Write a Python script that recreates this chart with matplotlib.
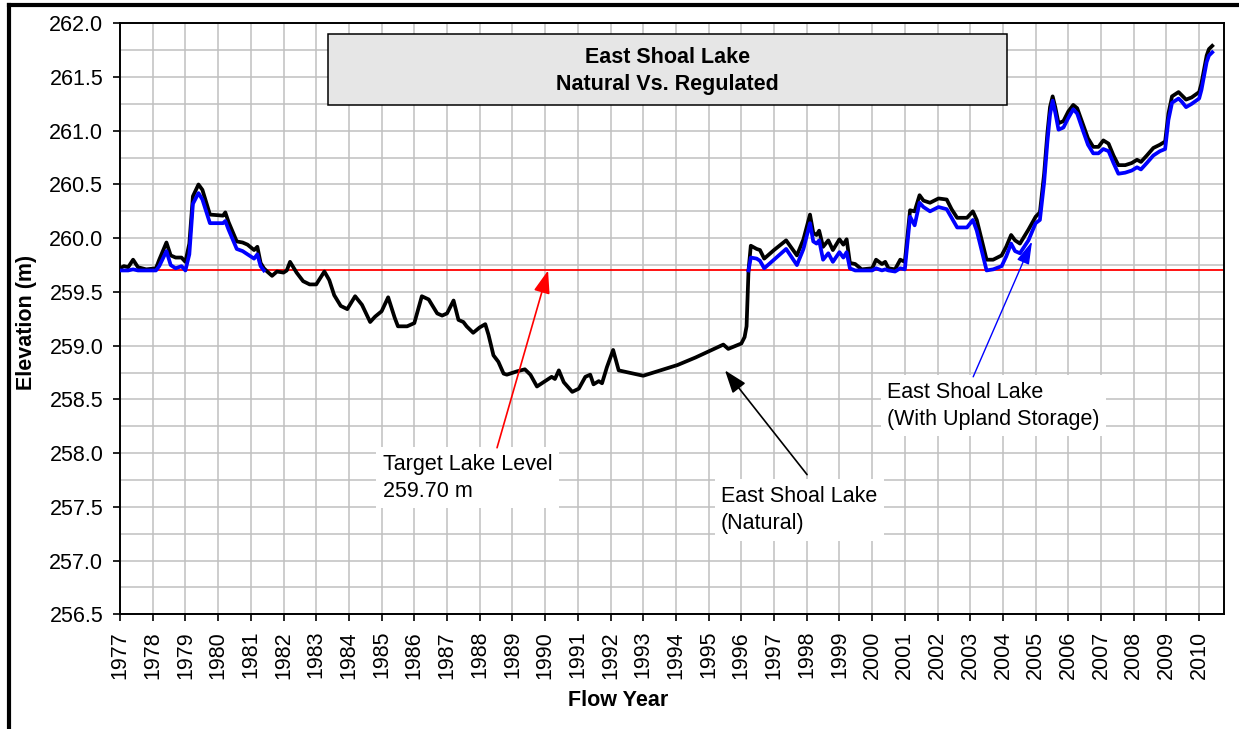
import numpy as np
import matplotlib
matplotlib.use("Agg")
import matplotlib.pyplot as plt
from matplotlib.lines import Line2D
from matplotlib.patches import Rectangle

plt.rcParams['font.family'] = ['Liberation Sans', 'DejaVu Sans']

# ---------------- data ----------------
years = [1977.00, 1977.12, 1977.25, 1977.40, 1977.55, 1977.80, 1978.10, 1978.20, 1978.42, 1978.55,
         1978.70, 1978.88, 1979.00, 1979.12, 1979.23, 1979.40, 1979.52, 1979.75, 1980.15, 1980.22,
         1980.32, 1980.57, 1980.75, 1980.90, 1981.10, 1981.20, 1981.30, 1981.40,
         1981.50, 1981.65, 1981.80, 1982.00, 1982.10, 1982.20, 1982.40, 1982.60, 1982.80, 1983.00,
         1983.25, 1983.40, 1983.55, 1983.75, 1983.95, 1984.19, 1984.40, 1984.65, 1984.80, 1985.00,
         1985.20, 1985.40, 1985.50, 1985.78, 1986.00, 1986.23, 1986.44, 1986.70, 1986.85, 1987.00,
         1987.20, 1987.35, 1987.50, 1987.60, 1987.80, 1988.00, 1988.17, 1988.27, 1988.42, 1988.57,
         1988.73, 1988.83, 1989.13, 1989.38, 1989.55, 1989.75, 1989.95, 1990.20, 1990.30, 1990.42,
         1990.57, 1990.83, 1991.03, 1991.23, 1991.38, 1991.48, 1991.64, 1991.74, 1991.89, 1992.08,
         1992.25, 1993.00, 1994.05, 1994.60, 1995.45, 1995.60, 1996.00, 1996.10, 1996.16,
         1996.22, 1996.29, 1996.47, 1996.57, 1996.70, 1997.00, 1997.37, 1997.70, 1997.90, 1998.10,
         1998.20, 1998.30, 1998.38, 1998.50, 1998.66, 1998.80, 1999.00, 1999.12, 1999.22, 1999.32,
         1999.48, 1999.68, 2000.00, 2000.12, 2000.30, 2000.40, 2000.50, 2000.70, 2000.86, 2001.00,
         2001.16, 2001.30, 2001.45, 2001.57, 2001.77, 2002.03, 2002.28, 2002.43, 2002.60, 2002.90,
         2003.08, 2003.20, 2003.50, 2003.70, 2003.96, 2004.10, 2004.25, 2004.37, 2004.52, 2004.78,
         2005.00, 2005.13, 2005.26, 2005.36, 2005.44, 2005.52, 2005.60, 2005.70, 2005.85, 2006.00,
         2006.15, 2006.27, 2006.46, 2006.60, 2006.76, 2006.92, 2007.07, 2007.23, 2007.38, 2007.53,
         2007.74, 2007.94, 2008.10, 2008.22, 2008.40, 2008.60, 2008.80, 2008.96, 2009.06, 2009.17,
         2009.37, 2009.47, 2009.60, 2009.77, 2010.00, 2010.07, 2010.23, 2010.30, 2010.40]

natural = [259.72, 259.74, 259.73, 259.80, 259.73, 259.71, 259.72, 259.80, 259.96, 259.84,
           259.82, 259.82, 259.78, 259.95, 260.39, 260.50, 260.45, 260.22, 260.21, 260.24,
           260.15, 259.97, 259.96, 259.94, 259.89, 259.92, 259.77, 259.72,
           259.69, 259.65, 259.69, 259.68, 259.70, 259.78, 259.68, 259.60, 259.57, 259.57,
           259.69, 259.61, 259.47, 259.37, 259.34, 259.46, 259.38, 259.22, 259.27, 259.32,
           259.45, 259.26, 259.18, 259.18, 259.21, 259.46, 259.43, 259.30, 259.28, 259.30,
           259.42, 259.24, 259.22, 259.18, 259.12, 259.17, 259.20, 259.10, 258.91, 258.85,
           258.74, 258.73, 258.76, 258.78, 258.73, 258.62, 258.66, 258.71, 258.69, 258.77,
           258.66, 258.57, 258.60, 258.71, 258.73, 258.64, 258.67, 258.65, 258.80, 258.96,
           258.77, 258.72, 258.82, 258.89, 259.01, 258.97, 259.02, 259.08, 259.18,
           259.70, 259.93, 259.90, 259.89, 259.81, 259.89, 259.98, 259.84, 259.99, 260.22,
           260.05, 260.03, 260.07, 259.92, 259.98, 259.89, 259.99, 259.94, 259.99, 259.77,
           259.76, 259.71, 259.72, 259.80, 259.76, 259.78, 259.72, 259.71, 259.80, 259.78,
           260.26, 260.25, 260.40, 260.35, 260.33, 260.37, 260.36, 260.27, 260.19, 260.19,
           260.25, 260.17, 259.80, 259.80, 259.84, 259.92, 260.03, 259.98, 259.95, 260.08,
           260.20, 260.24, 260.60, 260.98, 261.22, 261.32, 261.22, 261.07, 261.09, 261.18,
           261.24, 261.21, 261.05, 260.93, 260.85, 260.85, 260.91, 260.88, 260.77, 260.68,
           260.68, 260.70, 260.73, 260.71, 260.77, 260.84, 260.87, 260.90, 261.16, 261.32,
           261.36, 261.33, 261.29, 261.31, 261.36, 261.44, 261.70, 261.76, 261.79]

upland = [259.70, 259.70, 259.70, 259.71, 259.70, 259.70, 259.70, 259.74, 259.88, 259.75,
          259.72, 259.74, 259.70, 259.85, 260.32, 260.42, 260.36, 260.14, 260.14, 260.16,
          260.08, 259.90, 259.88, 259.85, 259.81, 259.85, 259.74, 259.70,
          None, None, None, None, None, None, None, None, None, None,
          None, None, None, None, None, None, None, None, None, None,
          None, None, None, None, None, None, None, None, None, None,
          None, None, None, None, None, None, None, None, None, None,
          None, None, None, None, None, None, None, None, None, None,
          None, None, None, None, None, None, None, None, None, None,
          None, None, None, None, None, None, None, None, None,
          259.70, 259.82, 259.81, 259.79, 259.72, 259.80, 259.90, 259.75, 259.90, 260.14,
          259.97, 259.95, 259.98, 259.80, 259.86, 259.78, 259.87, 259.82, 259.87, 259.72,
          259.70, 259.70, 259.70, 259.72, 259.70, 259.71, 259.70, 259.69, 259.72, 259.71,
          260.20, 260.12, 260.33, 260.29, 260.25, 260.29, 260.27, 260.19, 260.10, 260.10,
          260.17, 260.07, 259.70, 259.71, 259.74, 259.83, 259.95, 259.88, 259.86, 259.98,
          260.14, 260.17, 260.52, 260.90, 261.15, 261.28, 261.17, 261.01, 261.03, 261.12,
          261.20, 261.16, 260.99, 260.87, 260.79, 260.79, 260.83, 260.81, 260.70, 260.60,
          260.61, 260.63, 260.66, 260.64, 260.70, 260.77, 260.81, 260.83, 261.10, 261.26,
          261.30, 261.27, 261.22, 261.25, 261.30, 261.38, 261.64, 261.70, 261.73]

target_level = 259.70
year_ticks = list(range(1977, 2011))
elev_ticks = [256.5, 257.0, 257.5, 258.0, 258.5, 259.0, 259.5, 260.0, 260.5, 261.0, 261.5, 262.0]

title_lines = "East Shoal Lake\nNatural Vs. Regulated"

# ---------------- figure ----------------
W, H = 1239, 729
fig = plt.figure(figsize=(W / 100, H / 100), dpi=100)
fig.patch.set_facecolor('white')

def fx(px):
    return px / W

def fy(py):
    return 1 - py / H

ax = fig.add_axes([fx(120), fy(614.3), fx(1224) - fx(120), fy(23.3) - fy(614.3)])

FS = 15.5

# grid
ax.set_xlim(1977, 2010.76)
ax.set_ylim(256.5, 262.0)
ax.set_xticks(year_ticks)
ax.set_xticklabels([str(y) for y in year_ticks], rotation=90, fontsize=FS)
ax.set_yticks(elev_ticks)
ax.set_yticklabels([f"{v:.1f}" for v in elev_ticks], fontsize=FS)
ax.set_yticks(np.arange(256.75, 262.0, 0.5), minor=True)
ax.tick_params(axis='both', which='major', direction='out', length=5, width=1.2, pad=7, colors='black')
ax.tick_params(axis='y', which='minor', length=0)
ax.grid(True, which='major', axis='x', color='#c0c0c0', lw=1.1, zorder=0)
ax.grid(True, which='both', axis='y', color='#c0c0c0', lw=1.1, zorder=0)
ax.set_axisbelow(True)
for s in ax.spines.values():
    s.set_linewidth(1.4)
    s.set_color('black')

# lines
ax.axhline(target_level, color='#ff0000', lw=1.3, zorder=2)
yrs = np.array(years)
nat = np.array(natural, dtype=float)
upl = np.array([np.nan if v is None else v for v in upland], dtype=float)
ax.plot(yrs, nat, color='black', lw=2.7, zorder=3, solid_joinstyle='round')
ax.plot(yrs, upl, color='#0000ff', lw=2.7, zorder=4, solid_joinstyle='round')

# annotations
box = dict(boxstyle='square,pad=0.3', fc='white', ec='none')
ax.text(1985.04, 257.77, "Target Lake Level\n259.70 m", fontsize=FS, va='center', ha='left',
        bbox=box, zorder=5, linespacing=1.4)
ax.text(1995.38, 257.47, "East Shoal Lake\n(Natural)", fontsize=FS, va='center', ha='left',
        bbox=box, zorder=5, linespacing=1.4)
ax.text(2000.46, 258.44, "East Shoal Lake\n(With Upland Storage)", fontsize=FS, va='center', ha='left',
        bbox=box, zorder=5, linespacing=1.4)

ax.annotate('', xy=(1990.09, 259.70), xytext=(1988.53, 258.05),
            arrowprops=dict(arrowstyle='-|>,head_length=1.4,head_width=0.5', color='#ff0000',
                            lw=1.2, shrinkA=0, shrinkB=0), zorder=6)
ax.annotate('', xy=(1995.50, 258.77), xytext=(1998.01, 257.80),
            arrowprops=dict(arrowstyle='-|>,head_length=1.4,head_width=0.5', color='black',
                            lw=1.2, shrinkA=0, shrinkB=0), zorder=6)
ax.annotate('', xy=(2004.89, 259.97), xytext=(2003.09, 258.71),
            arrowprops=dict(arrowstyle='-|>,head_length=1.4,head_width=0.4', color='#0000ff',
                            lw=1.0, shrinkA=0, shrinkB=0), zorder=6)

# title box
fig.add_artist(Rectangle((fx(328), fy(105)), fx(1007) - fx(328), fy(34.5) - fy(105),
                         transform=fig.transFigure, fc='#e6e6e6', ec='black', lw=1.1, zorder=10))
fig.text(fx(667.5), fy(71), title_lines, ha='center', va='center', fontsize=FS,
         fontweight='bold', linespacing=1.35, zorder=11)

# axis labels
fig.text(fx(27), fy(322), "Elevation (m)", rotation=90, ha='center', va='center',
         fontsize=FS, fontweight='bold')
fig.text(fx(618), fy(701), "Flow Year", ha='center', va='center', fontsize=FS, fontweight='bold')

# outer frame (top and left edges)
fig.add_artist(Line2D([fx(9), 1.0], [fy(5.3), fy(5.3)], transform=fig.transFigure,
                      color='black', lw=3.0))
fig.add_artist(Line2D([fx(9), fx(9)], [fy(5.3), 0.0], transform=fig.transFigure,
                      color='black', lw=3.0))

fig.savefig("out.png", dpi=100)
